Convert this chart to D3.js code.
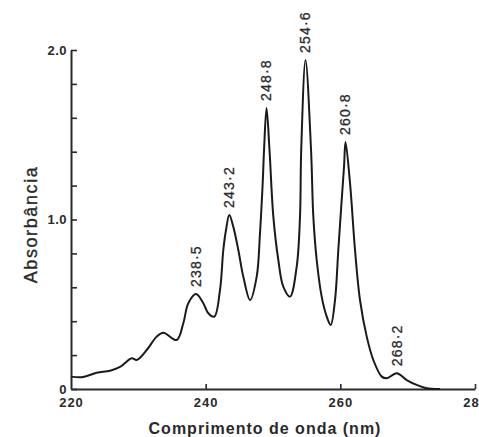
<!DOCTYPE html>
<html>
<head>
<meta charset="utf-8">
<script src="https://cdn.jsdelivr.net/npm/d3@7"></script>
<style>
  html, body { margin: 0; padding: 0; background: #ffffff; }
  svg { display: block; }
  text { font-family: "Liberation Sans", Arial, sans-serif; fill: #2a2a2a; }
</style>
</head>
<body>
<svg id="chart" width="479" height="437"></svg>
<script>
// Wavelength (nm) and absorbance
const wavelength = [220.0, 221.78, 223.82, 225.79, 227.28, 229.02, 229.76, 231.24, 232.73, 233.71,
  235.70, 236.68, 237.42, 238.57, 239.65, 240.39, 241.28, 242.13, 242.62, 243.02,
  243.51, 244.10, 244.85, 245.59, 246.59, 247.58, 248.07, 248.47, 248.67, 249.04,
  249.48, 250.05, 250.79, 251.53, 252.53, 253.52, 254.01, 254.19, 254.83, 255.65,
  255.99, 256.49, 257.23, 257.98, 258.57, 259.21, 259.70, 260.20, 260.55, 260.77,
  261.44, 262.18, 262.92, 263.92, 264.90, 266.15, 266.89, 268.37, 269.86, 271.34,
  272.83, 274.8];
const absorbance = [0.073, 0.071, 0.096, 0.108, 0.130, 0.181, 0.171, 0.230, 0.309, 0.332,
  0.289, 0.388, 0.506, 0.560, 0.506, 0.447, 0.427, 0.584, 0.820, 0.938,
  1.027, 0.958, 0.820, 0.663, 0.525, 0.663, 0.920, 1.215, 1.410, 1.658,
  1.410, 1.017, 0.761, 0.604, 0.545, 0.722, 1.017, 1.410, 1.941, 1.410,
  1.017, 0.761, 0.545, 0.427, 0.378, 0.525, 0.820, 1.115, 1.311, 1.457,
  1.215, 0.820, 0.525, 0.309, 0.171, 0.073, 0.063, 0.093, 0.053, 0.024,
  0.004, 0.0];

// Peak annotations
const peakLabels = ["238·5", "243·2", "248·8", "254·6", "260·8", "268·2"];
const peakNm = [238.57, 243.51, 249.04, 254.83, 260.77, 268.37];
const peakA = [0.560, 1.027, 1.658, 1.941, 1.457, 0.093];

// Axis ticks
const yTicks = [0, 0.2, 0.4, 0.6, 0.8, 1.0, 1.2, 1.4, 1.6, 1.8, 2.0];
const yTickLabels = ["0", "", "", "", "", "1.0", "", "", "", "", "2.0"];
const xTicks = [220, 240, 260, 280];

const svg = d3.select("#chart");
const x = d3.scaleLinear().domain([220, 280]).range([71, 475]);
const y = d3.scaleLinear().domain([0, 2]).range([389, 50]);

// Y axis
const yAxis = d3.axisLeft(y)
  .tickValues(yTicks)
  .tickSizeInner(-6).tickSizeOuter(0).tickPadding(4)
  .tickFormat((d, i) => yTickLabels[i]);
const gy = svg.append("g").attr("transform", `translate(${x(220)},0)`).call(yAxis);
gy.select(".domain").attr("stroke", "#2a2a2a").attr("stroke-width", 2);
gy.selectAll(".tick line").attr("stroke", "#2a2a2a").attr("stroke-width", 1.6);
gy.selectAll(".tick text")
  .style("font-size", "13px").style("font-weight", "bold")
  .style("letter-spacing", "0.5px").attr("fill", "#2a2a2a");

// X axis
const xAxis = d3.axisBottom(x)
  .tickValues(xTicks)
  .tickSizeInner(-5).tickSizeOuter(0).tickPadding(9)
  .tickFormat(d3.format("d"));
const gx = svg.append("g").attr("transform", `translate(0,${y(0)})`).call(xAxis);
gx.select(".domain").attr("stroke", "#2a2a2a").attr("stroke-width", 2);
gx.selectAll(".tick line").attr("stroke", "#2a2a2a").attr("stroke-width", 1.6);
gx.selectAll(".tick text")
  .style("font-size", "13px").style("font-weight", "bold")
  .style("letter-spacing", "1px").attr("fill", "#2a2a2a");
gx.selectAll(".tick").filter(d => d === 220).select("line").remove();

// Spectrum curve
const pts = wavelength.map((w, i) => [w, absorbance[i]]);
const line = d3.line()
  .x(d => x(d[0])).y(d => y(d[1]))
  .curve(d3.curveCatmullRom.alpha(0.5));
svg.append("path")
  .datum(pts)
  .attr("d", line)
  .attr("fill", "none")
  .attr("stroke", "#1a1a1a")
  .attr("stroke-width", 2)
  .attr("stroke-linejoin", "round");

// Peak labels
peakLabels.forEach((t, i) => {
  const px = x(peakNm[i]), py = y(peakA[i]) - 7;
  svg.append("text")
    .attr("transform", `translate(${px},${py}) rotate(-90)`)
    .attr("text-anchor", "start")
    .attr("dy", "0.35em")
    .style("font-size", "14px")
    .style("letter-spacing", "1.2px")
    .attr("stroke", "#2a2a2a").attr("stroke-width", 0.3)
    .text(t);
});

// Axis titles
svg.append("text")
  .attr("transform", `translate(31,${(y(0) + y(2)) / 2 + 5}) rotate(-90)`)
  .attr("text-anchor", "middle")
  .attr("dy", "0.35em")
  .style("font-size", "18px")
  .style("letter-spacing", "1.6px")
  .attr("stroke", "#2a2a2a").attr("stroke-width", 0.35)
  .text("Absorbância");

svg.append("text")
  .attr("x", 265).attr("y", 428)
  .attr("text-anchor", "middle")
  .attr("dy", "0.35em")
  .style("font-size", "16px")
  .style("font-weight", "bold")
  .style("letter-spacing", "1px")
  .text("Comprimento de onda (nm)");
</script>
</body>
</html>
